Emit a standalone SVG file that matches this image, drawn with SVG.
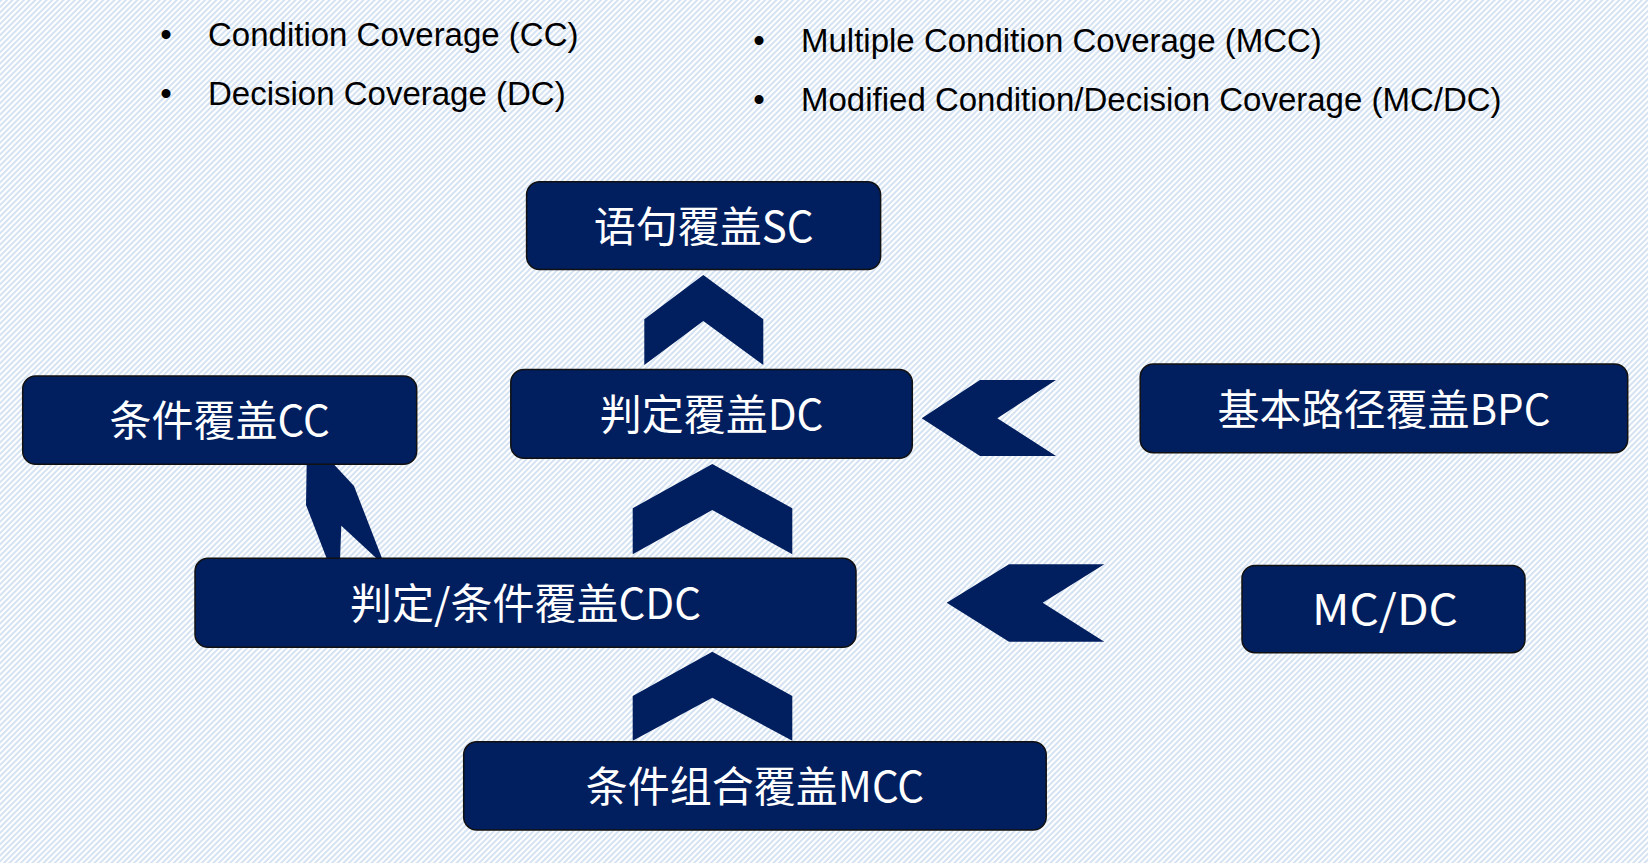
<svg xmlns="http://www.w3.org/2000/svg" width="1648" height="863" viewBox="0 0 1648 863">
<defs>
<pattern id="stripes" patternUnits="userSpaceOnUse" width="4" height="4" patternTransform="rotate(45)">
<rect x="0" y="0" width="4" height="4" fill="#ffffff"/>
<rect x="0" y="0" width="2" height="4" fill="#d5e2f2"/>
</pattern>
<style>
.box{fill:#011E5E;stroke:#111111;stroke-width:1.5}
.lbl{fill:#ffffff;font-family:"Noto Sans CJK SC","Noto Sans",sans-serif;font-size:42px;text-anchor:middle}
.bul{fill:#000000;font-family:"Liberation Sans",Arial,sans-serif;font-size:33px}
.chev{fill:#011E5E}
</style>
</defs>
<rect x="0" y="0" width="1648" height="863" fill="url(#stripes)"/>

<g id="legend">
<text class="bul" x="166" y="46" text-anchor="middle">•</text>
<text class="bul" x="208" y="46">Condition Coverage (CC)</text>
<text class="bul" x="166" y="105" text-anchor="middle">•</text>
<text class="bul" x="208" y="105">Decision Coverage (DC)</text>
<text class="bul" x="759" y="52" text-anchor="middle">•</text>
<text class="bul" x="801" y="52">Multiple Condition Coverage (MCC)</text>
<text class="bul" x="759" y="111" text-anchor="middle">•</text>
<text class="bul" x="801" y="111">Modified Condition/Decision Coverage (MC/DC)</text>
</g>

<g id="connectors">
<polygon class="chev" points="703.3,275 763.3,319.3 763.3,365 703.3,321 644.3,365 644.3,319.3"/>
<polygon class="chev" points="712.3,464 792.3,508.3 792.3,554.3 712.3,510 632.7,554.3 632.7,508.3"/>
<polygon class="chev" points="712.3,651.7 792.3,696 792.3,740.7 712.3,697.7 632.7,740.7 632.7,696"/>
<polygon class="chev" points="921.7,418.3 980,380 1056,380 997.3,418.3 1056,456 980,456"/>
<polygon class="chev" points="946.7,602.7 1009,564.3 1104.3,564.3 1042.7,602.7 1104.3,641.7 1009,641.7"/>
<polygon class="chev" points="306.7,462 306,505 327.3,560 340,560 341.3,525.7 378.3,560 382.7,560 354,486 331.7,462"/>
</g>

<g id="node-sc">
<rect class="box" x="526.6" y="181.8" width="354" height="87.7" rx="13"/>
<text class="lbl" x="703.6" y="241.7">语句覆盖SC</text>
</g>
<g id="node-dc">
<rect class="box" x="510.8" y="369.5" width="401.5" height="88.8" rx="13"/>
<text class="lbl" x="711.5" y="430">判定覆盖DC</text>
</g>
<g id="node-cc">
<rect class="box" x="22.7" y="376" width="394" height="88.3" rx="13"/>
<text class="lbl" x="219.7" y="436.2">条件覆盖CC</text>
</g>
<g id="node-bpc">
<rect class="box" x="1140.2" y="364" width="487.5" height="88.7" rx="13"/>
<text class="lbl" x="1384" y="425">基本路径覆盖BPC</text>
</g>
<g id="node-cdc">
<rect class="box" x="195" y="558.3" width="661" height="89" rx="13"/>
<text class="lbl" x="525.5" y="618.8">判定/条件覆盖CDC</text>
</g>
<g id="node-mcdc">
<rect class="box" x="1242" y="565.4" width="283" height="87.3" rx="13"/>
<text class="lbl" x="1385" y="625" textLength="146" lengthAdjust="spacingAndGlyphs">MC/DC</text>
</g>
<g id="node-mcc">
<rect class="box" x="463.7" y="741.7" width="582.5" height="88.3" rx="13"/>
<text class="lbl" x="755" y="801.8">条件组合覆盖MCC</text>
</g>
</svg>
